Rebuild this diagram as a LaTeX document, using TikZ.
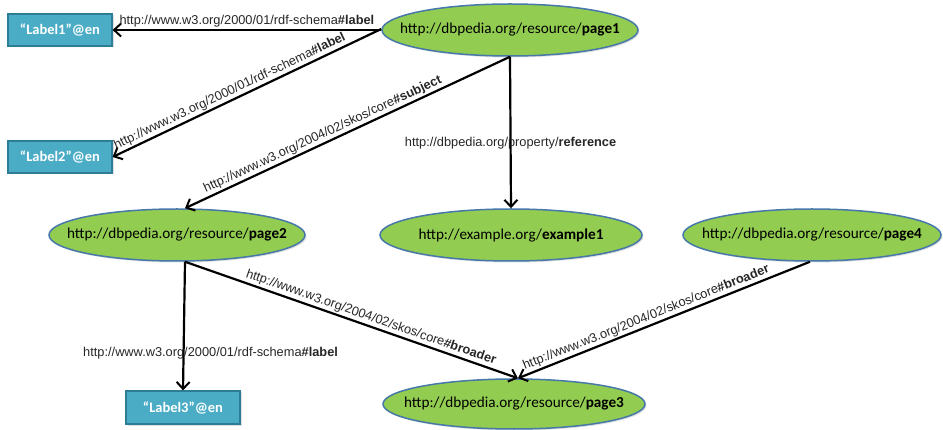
\documentclass[tikz,border=0pt]{standalone}
\usepackage{fontspec}
\setmainfont{Carlito}
\newfontfamily\arialf{Liberation Sans}
\usetikzlibrary{shapes.geometric,arrows.meta,shadows}
\definecolor{resgreen}{RGB}{146,204,80}
\definecolor{resblue}{RGB}{70,120,170}
\definecolor{litfill}{RGB}{75,172,198}
\definecolor{litborder}{RGB}{45,125,150}
\tikzset{
  res/.style={ellipse, draw=resblue, line width=1.5pt, fill=resgreen,
    minimum width=256pt, minimum height=52pt, inner xsep=-60pt, inner ysep=-8pt,
    font=\fontsize{15.2}{17}\selectfont,
    drop shadow={opacity=0.25, shadow xshift=1.5pt, shadow yshift=-1.5pt}},
  lit/.style={rectangle, draw=litborder, line width=1.2pt, fill=litfill,
    minimum width=104pt, minimum height=32pt, inner sep=0pt, text=white,
    font=\bfseries\fontsize{14.5}{16}\selectfont,
    drop shadow={opacity=0.25, shadow xshift=1.5pt, shadow yshift=-1.5pt}},
  rel/.style={line width=2.2pt, -{Straight Barb[length=7pt,width=13pt,line width=2pt]}},
  lbl/.style={font=\arialf\fontsize{12.8}{14}\selectfont, inner sep=1.5pt, text=black!85}
}
\begin{document}
\begin{tikzpicture}[x=1pt,y=-1pt]
\useasboundingbox (0,0) rectangle (943,430);
\node[res] (p1) at (510,30) {http://dbpedia.org/resource/\textbf{page1}};
\node[res] (p2) at (177,235) {http://dbpedia.org/resource/\textbf{page2}};
\node[res, minimum width=262pt] (ex) at (511,235) {http://example.org/\textbf{example1}};
\node[res, minimum width=258pt] (p4) at (812,235) {http://dbpedia.org/resource/\textbf{page4}};
\node[res, minimum width=262pt, minimum height=50pt] (p3) at (514,404) {http://dbpedia.org/resource/\textbf{page3}};
\node[lit] (l1) at (60,30) {“Label1”@en};
\node[lit] (l2) at (60,157) {“Label2”@en};
\node[lit, minimum width=114pt, minimum height=33pt] (l3) at (183,407.5) {“Label3”@en};

\draw[rel] (p1.west) -- node[lbl, above, pos=0.5] {http://www.w3.org/2000/01/rdf-schema\textbf{\#label}} (l1.east);
\draw[rel] ([yshift=1pt]p1.west) -- node[lbl, above, sloped, pos=0.55] {http://www.w3.org/2000/01/rdf-schema\textbf{\#label}} (l2.east);
\draw[rel] (p1.south) -- node[lbl, above, sloped, pos=0.565] {http://www.w3.org/2004/02/skos/core\textbf{\#subject}} ([xshift=8pt]p2.north);
\draw[rel] (p1.south) -- node[lbl, pos=0.57] {http://dbpedia.org/property/\textbf{reference}} (ex.north);
\draw[rel] ([xshift=8pt]p2.south) -- node[lbl, pos=0.71, xshift=27pt] {http://www.w3.org/2000/01/rdf-schema\textbf{\#label}} (l3.north);
\draw[rel] ([xshift=8pt]p2.south) -- node[lbl, above, sloped, pos=0.55] {http://www.w3.org/2004/02/skos/core\textbf{\#broader}} ([xshift=4pt]p3.north);
\draw[rel] ([xshift=-2pt]p4.south) -- node[lbl, above, sloped, pos=0.55] {http://www.w3.org/2004/02/skos/core\textbf{\#broader}} ([xshift=4pt]p3.north);
\end{tikzpicture}
\end{document}
